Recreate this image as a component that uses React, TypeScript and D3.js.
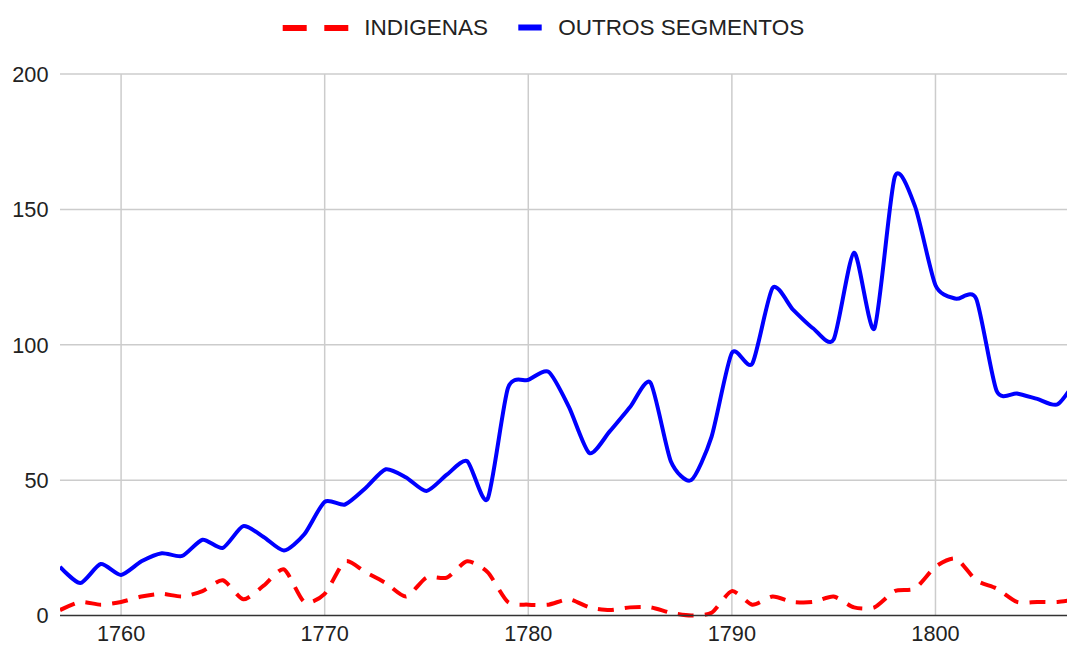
import * as d3 from 'd3';
import React from 'react';

// years on the x axis
const years = [
  1757, 1758, 1759, 1760, 1761, 1762, 1763, 1764, 1765, 1766,
  1767, 1768, 1769, 1770, 1771, 1772, 1773, 1774, 1775, 1776,
  1777, 1778, 1779, 1780, 1781, 1782, 1783, 1784, 1785, 1786,
  1787, 1788, 1789, 1790, 1791, 1792, 1793, 1794, 1795, 1796,
  1797, 1798, 1799, 1800, 1801, 1802, 1803, 1804, 1805, 1806, 1807,
];

const indigenas = [
  2, 5, 4, 5, 7, 8, 7, 9, 13, 6,
  11, 17, 5, 8, 20, 16, 12, 7, 14, 14,
  20, 16, 5, 4, 4, 6, 3, 2, 3, 3,
  1, 0, 1, 9, 4, 7, 5, 5, 7, 3,
  3, 9, 10, 18, 21, 13, 10, 5, 5, 5, 6,
];

const outros = [
  18, 12, 19, 15, 20, 23, 22, 28, 25, 33,
  29, 24, 30, 42, 41, 47, 54, 51, 46, 52,
  57, 43, 84, 87, 90, 77, 60, 68, 77, 86,
  57, 50, 66, 97, 93, 121, 113, 106, 102, 134,
  106, 162, 151, 122, 117, 117, 83, 82, 80, 78, 88,
];

const xTicks = [1760, 1770, 1780, 1790, 1800];
const yTicks = [0, 50, 100, 150, 200];

const W = 1067;
const H = 646;
const FONT = '"Liberation Sans", Arial, sans-serif';

export default function App() {
  const x = d3.scaleLinear().domain([1757, 1807]).range([60, 60 + 50 * 20.36]);
  const y = d3.scaleLinear().domain([0, 200]).range([615.5, 74]);

  const line = d3
    .line<number>()
    .x((d, i) => x(years[i]))
    .y((d) => y(d))
    .curve(d3.curveCardinal.tension(0.3));

  return (
    <svg
      width={W}
      height={H}
      style={{ position: 'absolute', left: 0, top: 0, background: '#fff' }}
      fontFamily={FONT}
    >
      <defs>
        <clipPath id="plot">
          <rect x={60} y={0} width={W - 60} height={618} />
        </clipPath>
      </defs>

      {/* gridlines */}
      {yTicks.slice(1).map((t) => (
        <line key={'gy' + t} x1={60} x2={W} y1={y(t)} y2={y(t)} stroke="#cccccc" strokeWidth={1.5} />
      ))}
      {xTicks.map((t) => (
        <line key={'gx' + t} x1={x(t)} x2={x(t)} y1={y(200)} y2={y(0)} stroke="#cccccc" strokeWidth={1.5} />
      ))}

      {/* series */}
      <g clipPath="url(#plot)">
        <path d={line(outros) || ''} fill="none" stroke="#0000ff" strokeWidth={4} />
        <path
          d={line(indigenas) || ''}
          fill="none"
          stroke="#ff0000"
          strokeWidth={4}
          strokeDasharray="16 11"
        />
      </g>

      {/* baseline */}
      <line x1={60} x2={W} y1={y(0)} y2={y(0)} stroke="#333333" strokeWidth={1.5} />

      {/* axis labels */}
      {yTicks.map((t) => (
        <text key={'ly' + t} x={48.5} y={y(t) + 7.8} textAnchor="end" fontSize={21.7} fill="#222">
          {t}
        </text>
      ))}
      {xTicks.map((t) => (
        <text key={'lx' + t} x={x(t)} y={641} textAnchor="middle" fontSize={21.7} fill="#222">
          {t}
        </text>
      ))}

      {/* legend */}
      <rect x={282.7} y={25} width={24} height={6} fill="#ff0000" />
      <rect x={324.3} y={25} width={24} height={6} fill="#ff0000" />
      <text x={364.3} y={35} fontSize={22.5} fill="#222">INDIGENAS</text>
      <rect x={518.3} y={24.5} width={23.4} height={6} fill="#0000ff" />
      <text x={558.3} y={35} fontSize={22.5} fill="#222">OUTROS SEGMENTOS</text>
    </svg>
  );
}
